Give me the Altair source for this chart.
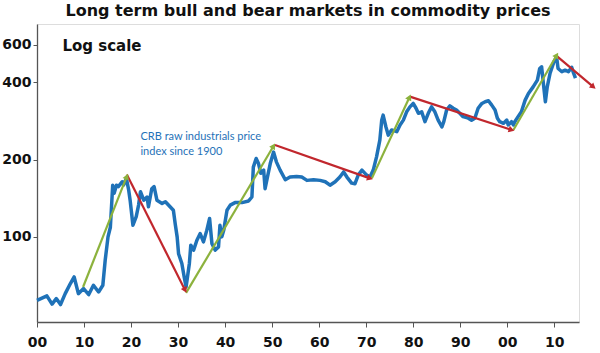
import math
import altair as alt
import pandas as pd

# ---- data ----
years = [1900.0, 1902.1, 1903.2, 1904.1, 1905.0, 1906.0, 1907.1, 1907.9, 1908.8, 1909.9,
         1911.0, 1912.0, 1913.1, 1914.0, 1914.5, 1915.1, 1915.6, 1916.1, 1916.4, 1916.9,
         1917.3, 1918.1, 1918.4, 1919.0, 1919.5, 1919.8, 1920.4, 1921.1, 1921.6, 1922.0,
         1922.7, 1923.4, 1923.7, 1924.4, 1924.9, 1925.5, 1926.6, 1927.3, 1928.3, 1929.0,
         1929.4, 1929.8, 1930.1, 1930.8, 1931.3, 1931.7, 1932.0, 1932.4, 1932.7, 1933.3,
         1934.0, 1934.7, 1935.4, 1936.1, 1936.7, 1937.2, 1937.9, 1938.6, 1938.9, 1939.3,
         1939.7, 1940.4, 1941.1, 1942.1, 1943.6, 1945.0, 1945.7, 1946.0, 1946.6, 1947.1,
         1947.6, 1948.2, 1948.5, 1949.0, 1949.6, 1950.3, 1950.9, 1951.7, 1952.8, 1953.8,
         1955.2, 1956.3, 1957.4, 1958.8, 1960.2, 1961.3, 1962.3, 1963.4, 1964.4, 1965.2,
         1965.9, 1966.9, 1967.6, 1968.3, 1969.1, 1970.1, 1970.8, 1971.5, 1972.2, 1972.9,
         1973.3, 1973.6, 1974.2, 1974.7, 1975.4, 1976.5, 1977.2, 1977.9, 1978.6, 1979.3,
         1980.0, 1980.6, 1981.1, 1981.8, 1982.5, 1983.2, 1983.9, 1984.6, 1985.3, 1986.1,
         1986.5, 1987.1, 1987.8, 1988.5, 1989.2, 1989.9, 1990.6, 1991.7, 1992.4, 1993.1,
         1993.8, 1994.6, 1995.3, 1996.0, 1996.7, 1997.4, 1997.9, 1998.4, 1999.2, 1999.9,
         2000.2, 2000.9, 2001.3, 2001.6, 2002.3, 2003.0, 2003.8, 2004.5, 2005.5, 2006.4,
         2006.9, 2007.3, 2007.6, 2008.1, 2008.5, 2009.1, 2009.8, 2010.1, 2010.5, 2010.8,
         2011.6, 2012.3, 2013.0, 2013.7, 2014.1, 2014.5]
crb = [56.6, 58.9, 54.7, 57.5, 54.5, 60.1, 65.8, 69.8, 60.1, 62.9,
       59.6, 64.8, 61.0, 64.8, 81.1, 100, 109, 159, 148, 159,
       157, 164, 159, 169, 152, 139, 111, 120, 133, 150,
       139, 143, 131, 154, 157, 139, 135, 137, 131, 127,
       112, 100, 86, 78.8, 69.8, 63.8, 69.8, 78.8, 92.8, 88.8,
       97, 103, 95.6, 106, 118, 94, 88.8, 91.4, 111, 100,
       106, 127, 133, 136, 136, 138, 143, 187, 202, 193,
       177, 182, 154, 171, 193, 214, 196, 182, 167, 171,
       172, 171, 166, 167, 166, 164, 159, 164, 171, 179,
       171, 162, 161, 174, 182, 174, 171, 182, 205, 238,
       285, 298, 268, 249, 261, 257, 273, 285, 307, 321,
       331, 317, 303, 307, 281, 303, 321, 307, 285, 268,
       281, 312, 324, 317, 312, 303, 294, 290, 285, 290,
       317, 331, 336, 339, 326, 312, 290, 281, 277, 285,
       273, 281, 273, 281, 294, 307, 341, 362, 384, 408,
       453, 460, 408, 336, 384, 434, 474, 489, 500, 453,
       440, 446, 440, 458, 434, 415]

# bull (green) and bear (red) trend arrows
arrow_kind = ["bull", "bear", "bull", "bear", "bull", "bear", "bull", "bear"]
arrow_y0 = [1909.8, 1919.1, 1931.7, 1950.6, 1971.2, 1979.3, 2001.3, 2010.6]
arrow_v0 = [63.8, 175, 60.5, 228, 169, 352, 261, 505]
arrow_y1 = [1919.1, 1931.5, 1950.3, 1970.8, 1979.2, 2000.9, 2010.5, 2018.3]
arrow_v1 = [172, 62, 226, 169, 350, 261, 510, 384]

x_ticks = [1900, 1910, 1920, 1930, 1940, 1950, 1960, 1970, 1980, 1990, 2000, 2010]
y_ticks = [100, 200, 400, 560]
y_tick_labels = ["100", "200", "400", "600"]

# ---- geometry / styling ----
W, H = 542, 298
X_DOM = [1900, 2015.25]
Y_DOM = [46.6, 675]
BLUE, GREEN, RED = "#1f72b8", "#8cb23d", "#c1272d"


def px(yr):
    return (yr - X_DOM[0]) / (X_DOM[1] - X_DOM[0]) * W


def py(v):
    return H * (math.log(Y_DOM[1]) - math.log(v)) / (math.log(Y_DOM[1]) - math.log(Y_DOM[0]))


line_df = pd.DataFrame({"year": years, "crb": crb})

seg_df = pd.DataFrame({"kind": arrow_kind, "x0": arrow_y0, "v0": arrow_v0,
                       "x1": arrow_y1, "v1": arrow_v1})
seg_df["angle"] = [
    (math.degrees(math.atan2(px(b) - px(a), -(py(d) - py(c))))) % 360
    for a, c, b, d in zip(arrow_y0, arrow_v0, arrow_y1, arrow_v1)
]

xs = alt.Scale(domain=X_DOM, nice=False, zero=False)
ys = alt.Scale(type="log", domain=Y_DOM, nice=False)
col = alt.Color("kind:N", scale=alt.Scale(domain=["bull", "bear"], range=[GREEN, RED]), legend=None)

label_expr = "datum.value > 500 ? '600' : datum.label"

base_line = alt.Chart(line_df).mark_line(color=BLUE, strokeWidth=3.5, strokeJoin="round").encode(
    x=alt.X("year:Q", scale=xs, title=None,
            axis=alt.Axis(values=x_ticks, labelExpr="slice(toString(datum.value), 2)",
                          grid=False, tickSize=5, labelPadding=8, domainColor="#555",
                          tickColor="#555", labelFont="DejaVu Sans", labelFontWeight="bold",
                          labelFontSize=14, labelColor="#111", domainWidth=1.3,
                          labelFlush=False, labelOverlap=False)),
    y=alt.Y("crb:Q", scale=ys, title=None,
            axis=alt.Axis(values=y_ticks, labelExpr=label_expr, grid=False, tickSize=4,
                          labelPadding=2, domainColor="#555", tickColor="#555",
                          labelFont="DejaVu Sans", labelFontWeight="bold", labelFontSize=14,
                          labelColor="#111", domainWidth=1.3, labelFlush=False,
                          labelOverlap=False)),
)

segs = alt.Chart(seg_df).mark_rule(strokeWidth=2.2).encode(
    x=alt.X("x0:Q", scale=xs), y=alt.Y("v0:Q", scale=ys),
    x2="x1:Q", y2="v1:Q", color=col,
)

heads = alt.Chart(seg_df).mark_point(shape="triangle-up", filled=True, size=45, opacity=1).encode(
    x=alt.X("x1:Q", scale=xs), y=alt.Y("v1:Q", scale=ys),
    angle=alt.Angle("angle:Q", scale=None), color=col,
)

note_df = pd.DataFrame({"x": [1905.4], "y": [554], "t": ["Log scale"]})
note = alt.Chart(note_df).mark_text(align="left", baseline="middle", font="DejaVu Sans",
                                    fontWeight="bold", fontSize=15, color="#111").encode(
    x=alt.X("x:Q", scale=xs), y=alt.Y("y:Q", scale=ys), text="t:N")

crb_df = pd.DataFrame({"x": [1922.0, 1922.0], "y": [245, 214],
                       "t": ["CRB raw industrials price", "index since 1900"]})
crb_note = alt.Chart(crb_df).mark_text(align="left", baseline="middle", font="Lato",
                                       fontSize=11, color=BLUE).encode(
    x=alt.X("x:Q", scale=xs), y=alt.Y("y:Q", scale=ys), text="t:N")

chart = alt.layer(base_line, segs, heads, note, crb_note).properties(
    width=W, height=H,
    title=alt.TitleParams("Long term bull and bear markets in commodity prices",
                          font="DejaVu Sans", fontWeight="bold", fontSize=16, color="#111",
                          anchor="middle", offset=5),
    autosize=alt.AutoSizeParams(type="none"),
    padding={"left": 37, "top": 24, "right": 21, "bottom": 31},
).configure_view(stroke="#9a9a9a", strokeWidth=1.3).configure(background="white")

chart.save("out.html", embed_options={"renderer": "svg", "actions": False})
